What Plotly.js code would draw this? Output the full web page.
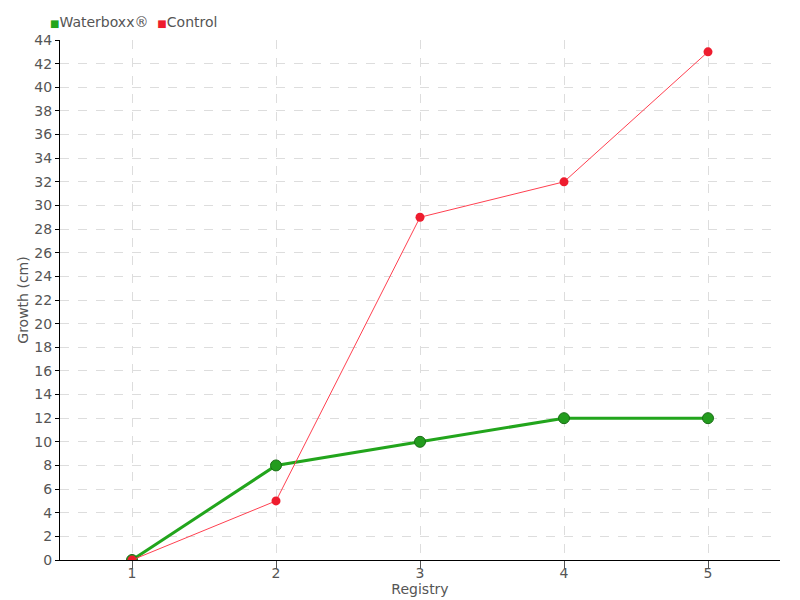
<!DOCTYPE html>
<html><head><meta charset="utf-8">
<script src="https://cdn.plot.ly/plotly-3.0.1.min.js"></script>
<style>body{margin:0;}#chart{width:800px;height:600px;}</style>
</head><body><div id="chart"></div>
<script>
const registry = [1, 2, 3, 4, 5];
const waterboxx = [0, 8, 10, 12, 12];
const control = [0, 5, 29, 32, 43];
const yTicks = [0,2,4,6,8,10,12,14,16,18,20,22,24,26,28,30,32,34,36,38,40,42,44];
const seriesNames = ['Waterboxx®', 'Control'];

const green = '#22a51c', red = '#ee1c2e';
const fontFam = '"DejaVu Sans", sans-serif';
const baseFont = {family: fontFam, color: '#555', size: 14};

const traces = [
  {x: registry, y: waterboxx, mode: 'lines+markers', name: seriesNames[0], showlegend: false,
   line: {color: green, width: 3}, marker: {color: '#239c1e', size: 11, line: {color: '#1a6e16', width: 1}}},
  {x: registry, y: control, mode: 'lines+markers', name: seriesNames[1], showlegend: false,
   line: {color: '#ff4050', width: 1}, marker: {color: red, size: 9}}
];

const layout = {
  width: 800, height: 600,
  margin: {l: 60, r: 20, t: 40, b: 40},
  paper_bgcolor: '#fff', plot_bgcolor: '#fff',
  font: baseFont,
  showlegend: false,
  annotations: [
    {xref: 'paper', yref: 'paper', x: -0.017, y: 1.035, xanchor: 'left', yanchor: 'middle', showarrow: false,
     font: baseFont,
     text: '<span style="color:' + green + ';font-size:10px">■</span>' + seriesNames[0] +
           '  <span style="color:' + red + ';font-size:10px">■</span>' + seriesNames[1]}
  ],
  xaxis: {range: [0.5, 5.5], tickvals: registry, ticktext: registry.map(String),
          showline: true, linecolor: '#000', linewidth: 1, ticks: 'outside', ticklen: 8, tickcolor: '#555',
          ticklabelstandoff: -8,
          showgrid: true, gridcolor: '#ddd', griddash: 'dash', zeroline: false,
          title: {text: 'Registry', standoff: 0, font: baseFont}, tickfont: baseFont},
  yaxis: {range: [0, 44], tickvals: yTicks, showline: true, linecolor: '#000', linewidth: 1,
          ticks: 'outside', ticklen: 4, tickcolor: '#000',
          showgrid: true, gridcolor: '#ddd', griddash: 'dash', zeroline: false,
          title: {text: 'Growth (cm)', standoff: 2, font: baseFont}, tickfont: baseFont}
};
Plotly.newPlot('chart', traces, layout, {displayModeBar: false});
</script></body></html>
